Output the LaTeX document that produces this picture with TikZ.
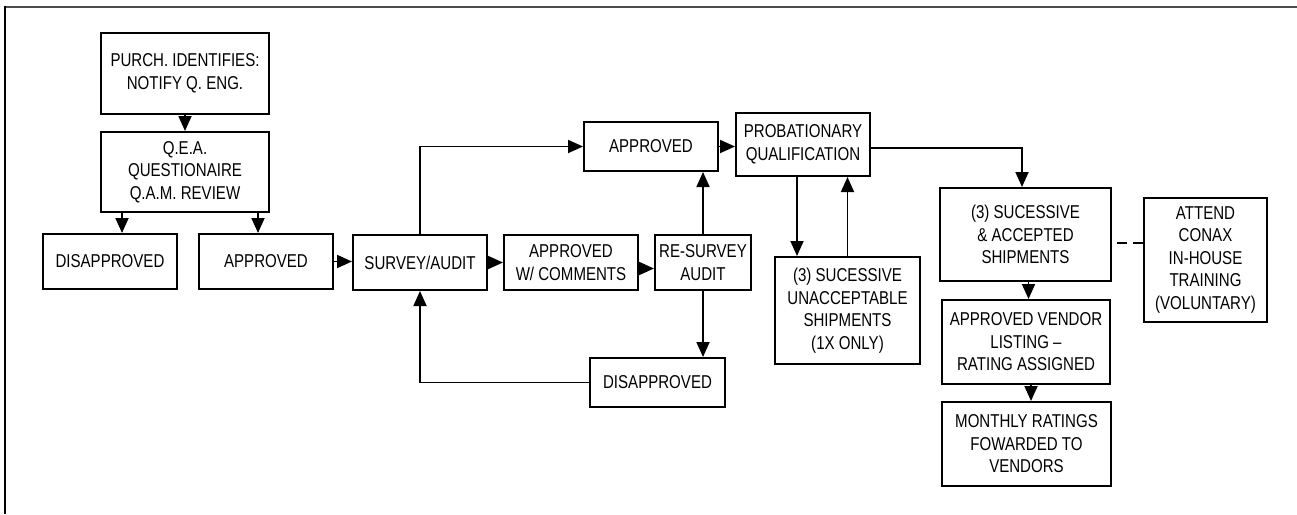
\documentclass[tikz,border=0pt]{standalone}
\usepackage{fontspec}
\newfontfamily\boxfont{Liberation Sans}[FakeStretch=0.81]
\usetikzlibrary{arrows.meta}
\tikzset{
  box/.style={draw=black, line width=2pt, rectangle, inner sep=0pt, align=center,
    font=\boxfont\fontsize{18.6pt}{22.5pt}\selectfont},
  conn/.style={line width=1.8pt, -{Triangle[length=15pt,width=13pt]}},
  dashlink/.style={line width=1.8pt, dash pattern=on 10pt off 6pt, dash phase=11pt},
  frame/.style={line width=2pt}
}
\begin{document}
\begin{tikzpicture}[x=1pt,y=-1pt]
\useasboundingbox (0,0) rectangle (1297,514);
% frame
\draw[frame, black!70] (4,6.5) -- (1297,6.5);
\draw[frame, black] (5,6) -- (5,514);
% nodes
\node[box, minimum width=168pt, minimum height=81pt] (purch) at (185,73.5) {PURCH. IDENTIFIES:\\NOTIFY Q. ENG.};
\node[box, minimum width=168pt, minimum height=80pt] (qea) at (185,172) {Q.E.A.\\QUESTIONAIRE\\Q.A.M. REVIEW};
\node[box, minimum width=134pt, minimum height=55pt] (dis1) at (110,261.5) {DISAPPROVED};
\node[box, minimum width=134pt, minimum height=55pt] (app1) at (266,261.5) {APPROVED};
\node[box, minimum width=134pt, minimum height=55pt] (survey) at (420,262.5) {SURVEY/AUDIT};
\node[box, minimum width=134pt, minimum height=55pt] (appc) at (571,262.5) {APPROVED\\W/ COMMENTS};
\node[box, minimum width=96pt, minimum height=55pt] (resurvey) at (703,262.5) {RE-SURVEY\\AUDIT};
\node[box, minimum width=134pt, minimum height=49pt] (app2) at (651,146.5) {APPROVED};
\node[box, minimum width=134pt, minimum height=63pt] (prob) at (803,144.5) {PROBATIONARY\\QUALIFICATION};
\node[box, minimum width=135pt, minimum height=49pt] (dis2) at (657.5,382.5) {DISAPPROVED};
\node[box, minimum width=145pt, minimum height=107pt] (unacc) at (847.5,310.5) {(3) SUCESSIVE\\UNACCEPTABLE\\SHIPMENTS\\(1X ONLY)};
\node[box, minimum width=171pt, minimum height=93pt] (acc) at (1025.5,234.5) {(3) SUCESSIVE\\\& ACCEPTED\\SHIPMENTS};
\node[box, minimum width=168pt, minimum height=84pt] (vendor) at (1026,342) {APPROVED VENDOR\\LISTING –\\RATING ASSIGNED};
\node[box, minimum width=169pt, minimum height=84pt] (monthly) at (1026.5,444) {MONTHLY RATINGS\\FOWARDED TO\\VENDORS};
\node[box, minimum width=123pt, minimum height=124pt] (attend) at (1205.5,260) {ATTEND\\CONAX\\IN-HOUSE\\TRAINING\\(VOLUNTARY)};
% connectors
\draw[conn] (purch.south) -- (qea.north);
\draw[conn] ([xshift=12pt]dis1.north |- qea.south) -- ([xshift=12pt]dis1.north);
\draw[conn] ([xshift=-8pt]app1.north |- qea.south) -- ([xshift=-8pt]app1.north);
\draw[conn] (app1.east) -- (app1.east -| survey.west);
\draw[conn] (survey.east) -- (survey.east -| appc.west);
\draw[conn] ([yshift=-6pt]appc.east) -- ([yshift=-6pt]appc.east -| resurvey.west);
\draw[conn] (survey.north) |- (app2.west);
\draw[conn] (resurvey.north) -- (resurvey.north |- app2.south);
\draw[conn] (app2.east) -- (app2.east -| prob.west);
\draw[conn] ([yshift=-3.5pt]prob.east) -| ([xshift=-3.5pt]acc.north);
\draw[conn] ([xshift=-6pt]prob.south) -- ([xshift=-6pt]prob.south |- unacc.north);
\draw[conn] (unacc.north) -- (unacc.north |- prob.south);
\draw[conn] (resurvey.south) -- (resurvey.south |- dis2.north);
\draw[conn] (dis2.west) -| (survey.south);
\draw[conn] ([xshift=3pt]acc.south) -- ([xshift=3pt]acc.south |- vendor.north);
\draw[conn] ([xshift=5pt]vendor.south) -- ([xshift=5pt]vendor.south |- monthly.north);
\draw[dashlink] ([yshift=-8.5pt]acc.east) -- ([yshift=-8.5pt]acc.east -| attend.west);
\end{tikzpicture}
\end{document}
